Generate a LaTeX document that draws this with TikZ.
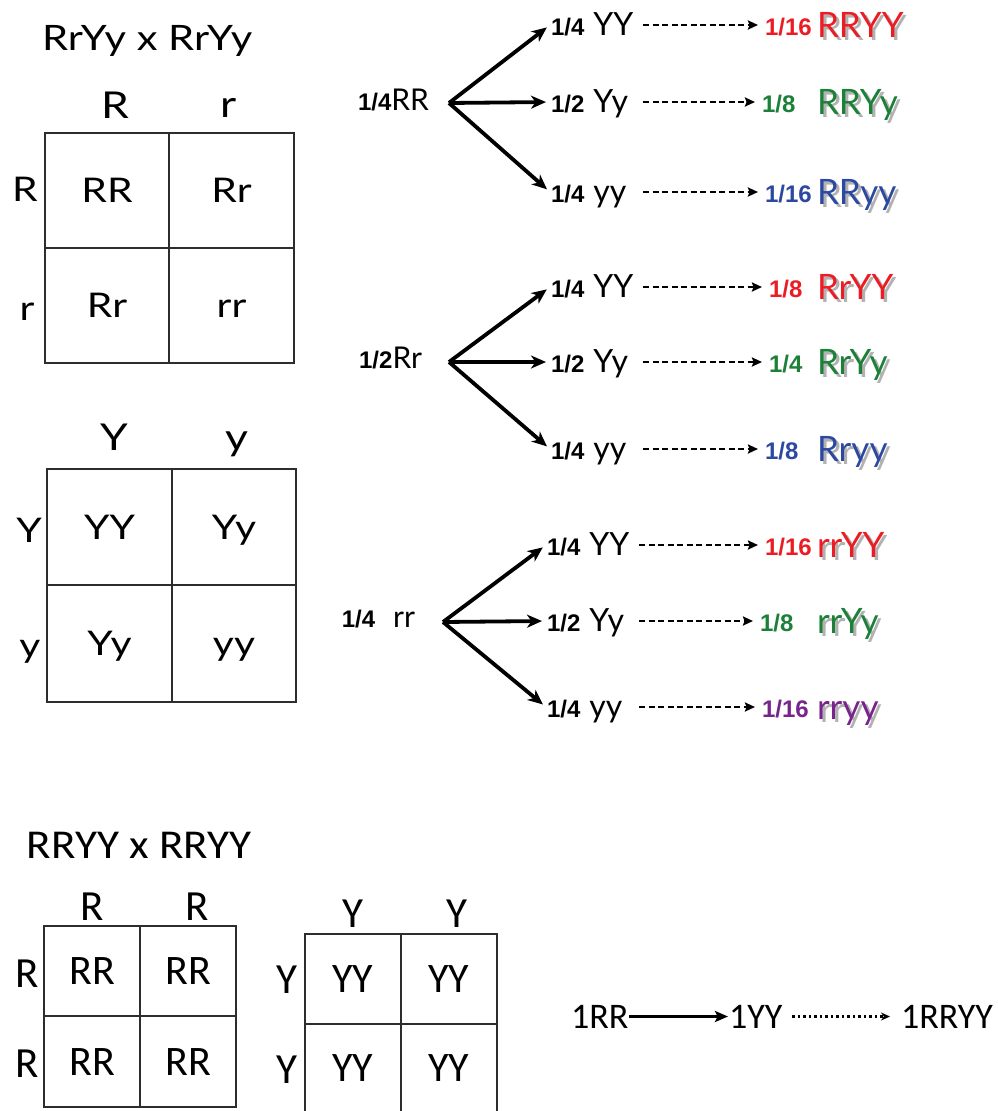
\documentclass[tikz,border=0pt]{standalone}
\usepackage{fontspec}
\usepackage{graphicx}
\usetikzlibrary{arrows.meta}
\setmainfont{Lato}
\newfontfamily\gillfam{Lato}
\newfontfamily\fracfam{Liberation Sans}
\newfontfamily\calibfam{Carlito}
\newcommand\gillf[1]{\gillfam\fontsize{#1}{#1}\selectfont}
\newcommand\calibf[1]{\calibfam\fontsize{#1}{#1}\selectfont}
\newcommand\fracb[1]{{\fracfam\bfseries\fontsize{24}{24}\selectfont #1}}
\newcommand\stretchx[2]{\scalebox{#1}[1]{#2}}

\definecolor{tred}{RGB}{236,28,36}
\definecolor{tgreen}{RGB}{28,128,56}
\definecolor{tblue}{RGB}{44,72,160}
\definecolor{tpurple}{RGB}{120,36,140}
\definecolor{gridc}{RGB}{45,45,45}

\tikzset{
  txt/.style={inner sep=1pt, outer sep=0pt},
  title/.style={txt, anchor=base west},
  glabel/.style={txt, anchor=base},
  cell/.style={draw=gridc, line width=2pt, inner sep=0pt, outer sep=0pt, text depth=0pt},
  topcell/.style={cell, minimum width=124.5pt, minimum height=115pt, text height=24pt, font=\gillf{34}},
  botcell/.style={cell, minimum width=96pt, minimum height=90.5pt, text height=27pt, font=\calibf{42}},
  root/.style={txt, anchor=base east, font=\gillf{30}},
  kid/.style={txt, anchor=base west, text width=88pt, align=left, text height=20pt, text depth=0pt, font=\gillf{32}},
  resfrac/.style={txt, anchor=base west, text height=20pt, text depth=0pt},
  resgeno/.style={txt, anchor=base west, font=\gillf{35}},
  treearrow/.style={line width=3.8pt, -{Stealth[length=15pt,width=13pt,inset=4.5pt]}, shorten >=4pt},
  dasharrow/.style={line width=2.4pt, dash pattern=on 6pt off 3.5pt, -{Stealth[length=10pt,width=9pt,inset=1.5pt]}, shorten <=3pt, shorten >=6pt},
  chainarrow/.style={line width=2.8pt, -{Stealth[length=13pt,width=11pt,inset=2.5pt]}},
  dotarrow/.style={line width=2.2pt, dash pattern=on 2.5pt off 3pt, -{Stealth[length=9pt,width=8pt]}, shorten <=9pt, shorten >=10pt},
  chain/.style={txt, anchor=base west, font=\calibf{36}, text height=23pt, text depth=0pt},
}

% one branch of a tree: child genotype, dashed arrow, coloured product
% #1 name, #2 baseline, #3 child fraction, #4 child genotype,
% #5 x of product fraction, #6 product fraction, #7 colour, #8 product genotype, #9 x of child
\newcommand\branch[9]{%
  \node[kid] (#1k) at (#9,#2) {\fracb{#3}\hspace{9pt}#4};
  \node[resfrac, text=#7] (#1f) at (#5,#2) {\fracb{#6}};
  \node[resgeno, text=black!30] (#1s) at (819,#2+5) {#8};
  \node[resgeno, text=#7] (#1g) at (816,#2+2) {#8};
  \draw[dasharrow] (#1k) -- (#1f);
}

\begin{document}
\begin{tikzpicture}[x=1pt,y=-1pt]
\useasboundingbox (0,0) rectangle (998,1111);
\fill[white] (0,0) rectangle (998,1111);

% ---- dihybrid cross: R gene square
\node[title, font=\gillf{35}] (t1) at (41,50) {\stretchx{1.19}{RrYy x RrYy}};
\node[glabel, font=\gillf{37}] (c1a) at (115,118) {\stretchx{1.2}{R}};
\node[glabel, font=\gillf{37}] (c1b) at (229,117) {\stretchx{1.2}{r}};
\node[glabel, font=\gillf{34}] (r1a) at (25,201) {\stretchx{1.2}{R}};
\node[glabel, font=\gillf{34}] (r1b) at (27,320) {\stretchx{1.2}{r}};
\node[topcell] (s1a) at (107,190) {\stretchx{1.2}{RR}};
\node[topcell] (s1b) at (231.5,190) {\stretchx{1.2}{Rr}};
\node[topcell] (s1c) at (107,305) {\stretchx{1.2}{Rr}};
\node[topcell] (s1d) at (231.5,305) {\stretchx{1.2}{rr}};

% ---- Y gene square
\node[glabel, font=\gillf{37}] (c2a) at (114,450) {\stretchx{1.2}{Y}};
\node[glabel, font=\gillf{37}] (c2b) at (237,450) {\stretchx{1.2}{y}};
\node[glabel, font=\gillf{34}] (r2a) at (29,542) {\stretchx{1.2}{Y}};
\node[glabel, font=\gillf{34}] (r2b) at (30,657) {\stretchx{1.2}{y}};
\node[topcell, minimum height=116.5pt] (s2a) at (109.5,527) {\stretchx{1.2}{YY}};
\node[topcell, minimum height=116.5pt] (s2b) at (234,527) {\stretchx{1.2}{Yy}};
\node[topcell, minimum height=116.5pt] (s2c) at (109.5,643.5) {\stretchx{1.2}{Yy}};
\node[topcell, minimum height=116.5pt] (s2d) at (234,643.5) {\stretchx{1.2}{yy}};

% ---- branching trees
\node[root] (root1) at (430,110) {\fracb{1/4}RR};
\coordinate (v1) at (449,103);
\branch{a}{35}{1/4}{YY}{764}{1/16}{tred}{RRYY}{550}
\branch{b}{112}{1/2}{Yy}{761}{1/8}{tgreen}{RRYy}{550}
\branch{c}{202}{1/4}{yy}{764}{1/16}{tblue}{RRyy}{550}
\draw[treearrow] (v1) -- (ak.west);
\draw[treearrow] (v1) -- (bk.west);
\draw[treearrow] (v1) -- (ck.west);

\node[root] (root2) at (423,368) {\fracb{1/2}Rr};
\coordinate (v2) at (449,362);
\branch{d}{297}{1/4}{YY}{768}{1/8}{tred}{RrYY}{550}
\branch{e}{372}{1/2}{Yy}{768}{1/4}{tgreen}{RrYy}{550}
\branch{f}{459}{1/4}{yy}{764}{1/8}{tblue}{Rryy}{550}
\draw[treearrow] (v2) -- (dk.west);
\draw[treearrow] (v2) -- (ek.west);
\draw[treearrow] (v2) -- (fk.west);

\node[root] (root3) at (416,627) {\fracb{1/4}\hspace{18pt}rr};
\coordinate (v3) at (443,622);
\branch{g}{555}{1/4}{YY}{764}{1/16}{tred}{rrYY}{546}
\branch{h}{631}{1/2}{Yy}{759}{1/8}{tgreen}{rrYy}{546}
\branch{i}{717}{1/4}{yy}{761}{1/16}{tpurple}{rryy}{546}
\draw[treearrow] (v3) -- (gk.west);
\draw[treearrow] (v3) -- (hk.west);
\draw[treearrow] (v3) -- (ik.west);

% ---- homozygous cross
\node[title, font=\calibf{41}] (t2) at (26,858) {\stretchx{1.1}{RRYY x RRYY}};
\node[glabel, font=\calibf{43}] (c3a) at (92,920) {R};
\node[glabel, font=\calibf{43}] (c3b) at (197,920) {R};
\node[glabel, font=\calibf{43}] (r3a) at (27,987) {R};
\node[glabel, font=\calibf{43}] (r3b) at (27,1077) {R};
\node[botcell] (s3a) at (92,971) {RR};
\node[botcell] (s3b) at (188,971) {RR};
\node[botcell] (s3c) at (92,1061.5) {RR};
\node[botcell] (s3d) at (188,1061.5) {RR};

\node[glabel, font=\calibf{43}] (c4a) at (353,927) {Y};
\node[glabel, font=\calibf{43}] (c4b) at (457,927) {Y};
\node[glabel, font=\calibf{43}] (r4a) at (287,993) {Y};
\node[glabel, font=\calibf{43}] (r4b) at (287,1083) {Y};
\node[botcell] (s4a) at (353,979) {YY};
\node[botcell] (s4b) at (449,979) {YY};
\node[botcell, draw=none, minimum height=87pt] (s4c) at (353,1067.5) {YY};
\node[botcell, draw=none, minimum height=87pt] (s4d) at (449,1067.5) {YY};
\draw[draw=gridc, line width=2pt] (s4c.north west) -- (s4c.south west)
  (s4c.north east) -- (s4c.south east) (s4d.north east) -- (s4d.south east);

\node[chain] (p1) at (570,1028) {1RR};
\node[chain] (p2) at (728,1028) {1YY};
\node[chain] (p3) at (900,1028) {1RRYY};
\draw[chainarrow] (p1) -- (p2);
\draw[dotarrow] (p2) -- (p3);
\end{tikzpicture}
\end{document}
